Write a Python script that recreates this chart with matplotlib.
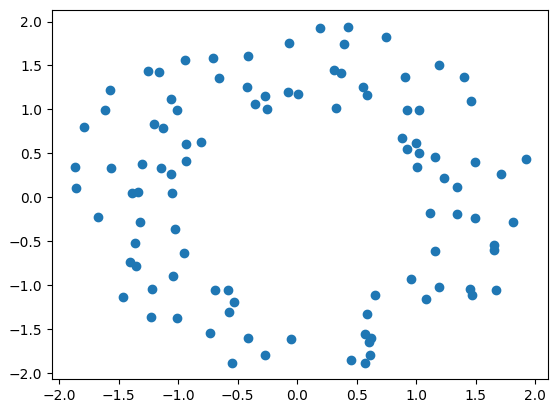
import matplotlib
matplotlib.use('Agg')
import matplotlib.pyplot as plt

# Point coordinates
x = [-0.07, -0.94, -0.71, -0.41, -1.25, -1.16, -0.66, -1.57, -0.42, -0.08,
     0.01, -0.27, -0.35, -0.25, -1.06, -1.01, -1.61, -1.79, -1.20, -1.13,
     -0.93, -0.81, -0.93, -1.87, -1.56, -1.30, -1.14, -1.06, -1.86, -1.39,
     -1.34, -1.05,
     0.19, 0.43, 0.75, 0.39, 1.19, 0.31, 0.37, 0.91, 1.40, 0.55,
     0.59, 1.46, 0.33, 0.92, 1.02, 0.88, 1.00, 0.92, 1.02, 1.16,
     1.49, 1.92, 1.01, 1.23, 1.71, 1.34,
     -1.67, -1.32, -1.03, -1.36, -0.95, -1.40, -1.35, -1.04, -1.22, -1.46,
     -0.69, -0.58, -0.53, -0.57, -1.23, -1.01, -0.73, -0.41, -0.05, -0.27,
     -0.55,
     1.12, 1.34, 1.49, 1.81, 1.65, 1.65, 1.16, 0.96, 1.19, 1.45,
     1.47, 1.67, 1.08, 0.65, 0.59, 0.57, 0.62, 0.60, 0.61, 0.45,
     0.57]
y = [1.75, 1.56, 1.58, 1.61, 1.44, 1.42, 1.36, 1.22, 1.25, 1.20,
     1.18, 1.15, 1.06, 1.00, 1.12, 0.99, 0.99, 0.80, 0.83, 0.79,
     0.61, 0.63, 0.41, 0.34, 0.33, 0.38, 0.33, 0.27, 0.11, 0.05,
     0.06, 0.05,
     1.93, 1.94, 1.82, 1.74, 1.51, 1.45, 1.41, 1.37, 1.37, 1.25,
     1.16, 1.10, 1.02, 0.99, 0.99, 0.68, 0.62, 0.55, 0.50, 0.46,
     0.40, 0.44, 0.35, 0.22, 0.27, 0.12,
     -0.22, -0.28, -0.36, -0.52, -0.63, -0.74, -0.78, -0.89, -1.04, -1.13,
     -1.05, -1.05, -1.19, -1.31, -1.36, -1.37, -1.54, -1.60, -1.61, -1.80,
     -1.88,
     -0.18, -0.19, -0.24, -0.28, -0.54, -0.60, -0.61, -0.93, -1.02, -1.04,
     -1.11, -1.06, -1.16, -1.11, -1.33, -1.55, -1.60, -1.65, -1.79, -1.85,
     -1.88]

fig = plt.figure(figsize=(5.59, 4.13), dpi=100)
ax = fig.add_axes([0.093, 0.0816, 0.8878, 0.8942])

# Scatter of the two rings
ax.scatter(x, y)

fig.savefig('out.png')
